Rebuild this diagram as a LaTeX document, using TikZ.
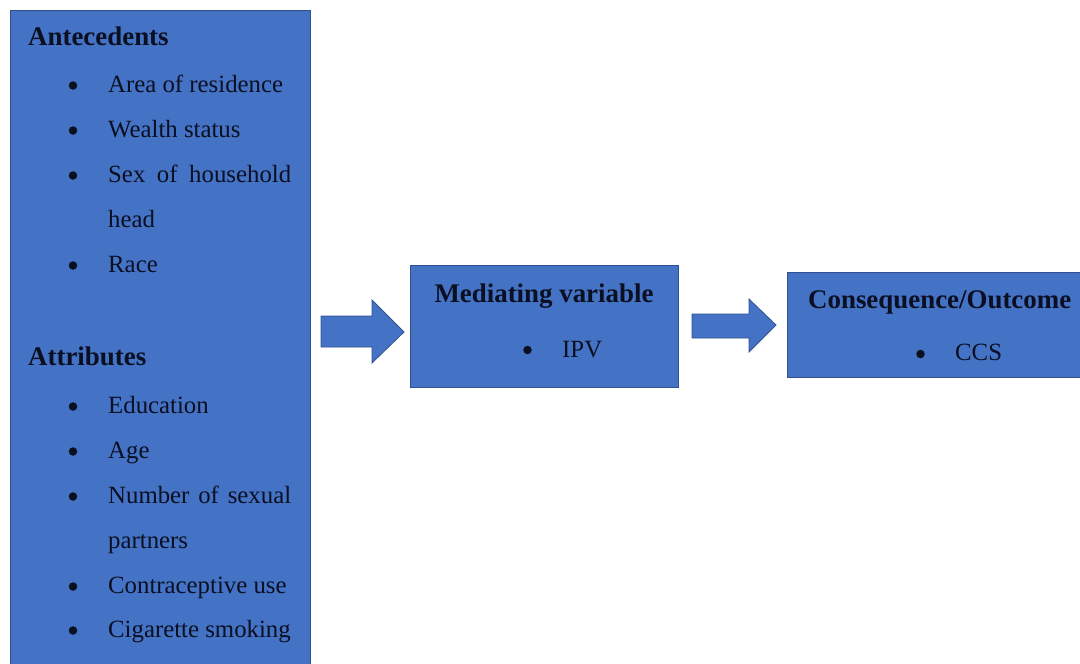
\documentclass[tikz,border=0pt]{standalone}
\usepackage{fontspec}
\setmainfont{Liberation Serif}
\definecolor{boxblue}{HTML}{4472C4}
\definecolor{boxedge}{HTML}{2F528F}
\definecolor{ink}{HTML}{0A0F22}
\begin{document}
\begin{tikzpicture}[x=1pt,y=-1pt,
  box/.style={draw=boxedge,line width=1pt,fill=boxblue,rectangle,inner sep=0pt},
  txt/.style={anchor=base west,inner sep=0pt,text=ink,font=\fontsize{24.8}{30}\selectfont},
  head/.style={anchor=base west,inner sep=0pt,text=ink,font=\fontsize{26.9}{30}\selectfont\bfseries},
  dot/.style={circle,fill=ink,inner sep=0pt,minimum size=8.5pt},
  blockarrow/.style={fill=boxblue,draw=boxedge,line width=0.8pt,line join=miter}]
\useasboundingbox (0,0) rectangle (1080,664);
\clip (0,0) rectangle (1080,664);
% boxes
\node[box,minimum width=300pt,minimum height=660pt,anchor=north west] (ante) at (10,10) {};
\node[box,minimum width=268pt,minimum height=122pt,anchor=north west] (med) at (410,265) {};
\node[box,minimum width=300pt,minimum height=105pt,anchor=north west] (cons) at (787,272) {};
% block arrows
\filldraw[blockarrow] (321,316) -- (372,316) -- (372,300) -- (404,332) -- (372,363) -- (372,347) -- (321,347) -- cycle;
\filldraw[blockarrow] (692,314) -- (749,314) -- (749,299) -- (776,325) -- (749,352) -- (749,338) -- (692,338) -- cycle;
% left box text
\node[head] (tA) at (28,45) {Antecedents};
\foreach \y/\t [count=\i] in {92/Area of residence,137/Wealth status,272/Race,413/Education,458/Age,593/Contraceptive use,637/Cigarette smoking}{
  \node[dot] (b\i) at (73,\y-6.5) {};
  \node[txt] (t\i) at (108,\y) {\t};
}
\node[dot] (b8) at (73,175.5) {};
\node[txt] (t8) at (108,182) {\makebox[183pt][s]{Sex of household}};
\node[txt] (t9) at (108,227) {head};
\node[dot] (b10) at (73,496.5) {};
\node[txt] (t10) at (108,503) {\makebox[183pt][s]{Number of sexual}};
\node[txt] (t11) at (108,548) {partners};
\node[head] (tB) at (28,365) {Attributes};
% mediating
\node[head,anchor=base] (tM) at (544,302) {Mediating variable};
\node[dot] (bM) at (527.5,350) {};
\node[txt] (iM) at (562,357) {IPV};
% consequence
\node[head] (tC) at (808,308) {Consequence/Outcome};
\node[dot] (bC) at (920.5,354) {};
\node[txt] (iC) at (955,360) {CCS};
\end{tikzpicture}
\end{document}
